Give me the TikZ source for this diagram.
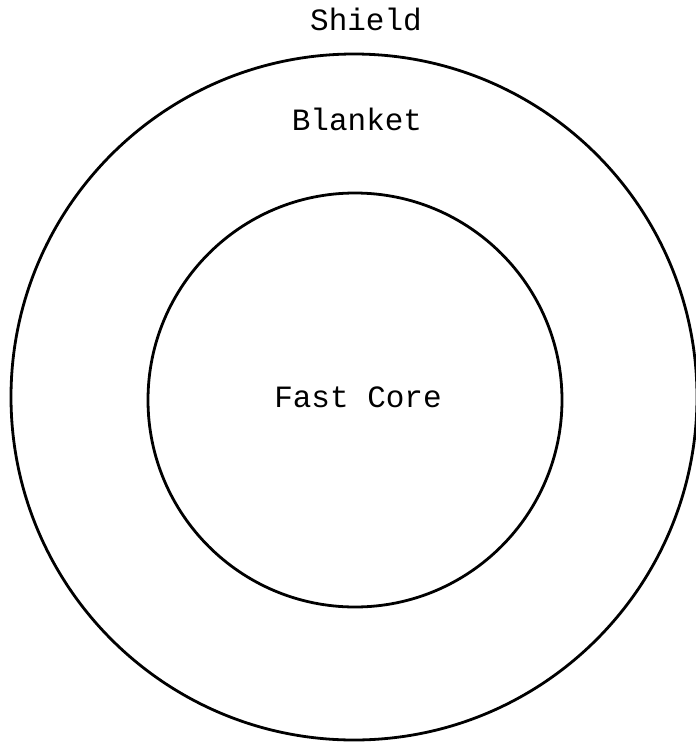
\documentclass[tikz,border=0pt]{standalone}
\usepackage{fontspec}
\setmonofont{Liberation Mono}
\begin{document}
\begin{tikzpicture}[x=1pt,y=-1pt,
  ring/.style={draw=black,line width=2.8pt},
  lbl/.style={font=\ttfamily\fontsize{31}{31}\selectfont,inner sep=0pt,anchor=base}]
\useasboundingbox (0,0) rectangle (696,745);
\node[ring,circle,minimum size=686pt,inner sep=0pt] (shield) at (354,397) {};
\node[ring,circle,minimum size=414pt,inner sep=0pt] (core) at (355,400) {};
\node[lbl] (tshield) at (366,30) {Shield};
\node[lbl] (tblanket) at (357,130) {Blanket};
\node[lbl] (tcore) at (358,407) {Fast Core};
\end{tikzpicture}
\end{document}
